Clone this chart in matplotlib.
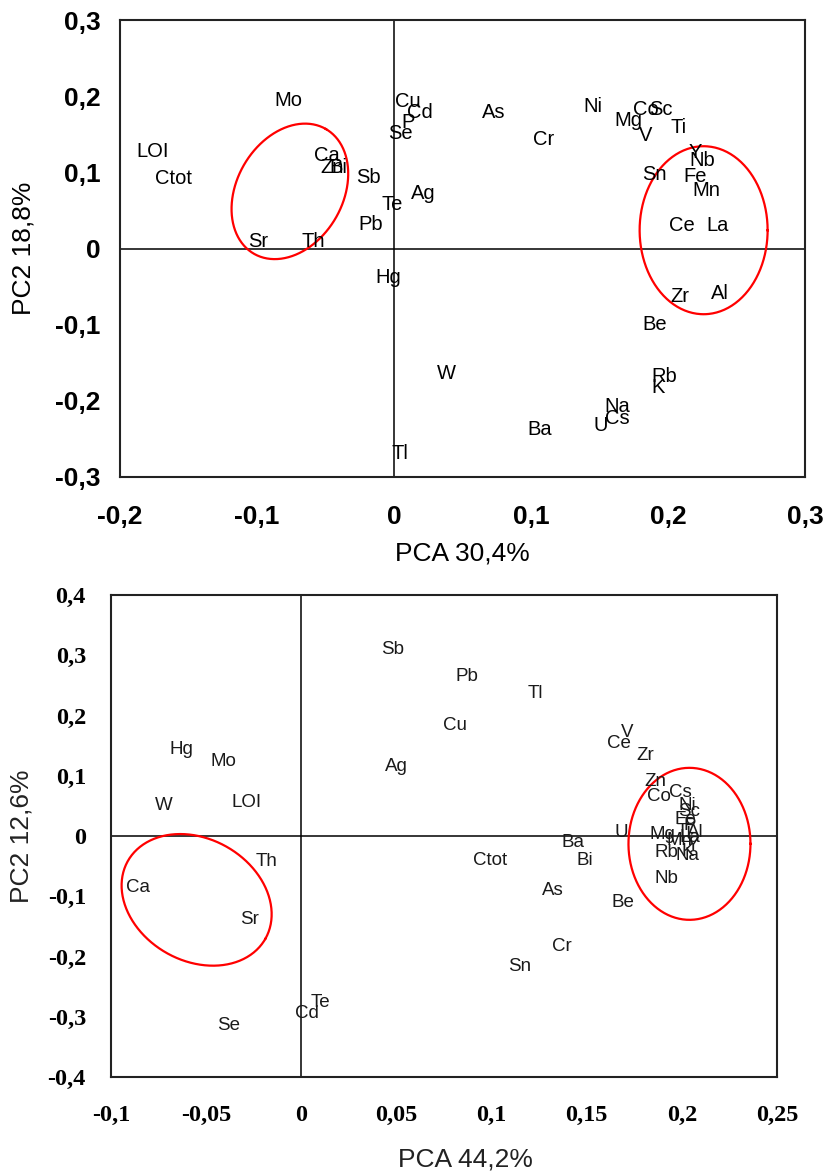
"""PCA loading plots (two panels) with element labels."""

import numpy as np
import matplotlib
matplotlib.use("Agg")
import matplotlib.pyplot as plt

# ---- top panel: PC1 (30,4%) vs PC2 (18,8%) ----
top_labels = ["LOI", "Ctot", "Mo", "Ca", "Zn", "Bi", "Sb", "Sr", "Th", "Te", "Pb",
              "Ag", "Se", "P", "Cd", "Cu", "As", "Cr", "Ni", "Mg", "Co", "Sc", "V",
              "Ti", "Y", "Nb", "Sn", "Fe", "Mn", "Ce", "La", "Zr", "Al", "Be", "W",
              "Rb", "K", "Na", "Cs", "U", "Ba", "Tl", "Hg"]
top_pc1 = [-0.176, -0.161, -0.077, -0.049, -0.045, -0.041, -0.019, -0.099, -0.059,
           -0.001, -0.017, 0.021, 0.005, 0.010, 0.019, 0.010, 0.073, 0.109, 0.145,
           0.171, 0.184, 0.195, 0.184, 0.208, 0.220, 0.225, 0.190, 0.220, 0.228,
           0.210, 0.236, 0.209, 0.238, 0.190, 0.038, 0.197, 0.193, 0.163, 0.163,
           0.151, 0.106, 0.004, -0.004]
top_pc2 = [0.128, 0.092, 0.194, 0.122, 0.107, 0.107, 0.093, 0.009, 0.009, 0.058,
           0.031, 0.072, 0.151, 0.166, 0.178, 0.193, 0.178, 0.143, 0.186, 0.168,
           0.183, 0.182, 0.149, 0.159, 0.126, 0.115, 0.097, 0.094, 0.076, 0.030,
           0.030, -0.063, -0.059, -0.100, -0.164, -0.168, -0.183, -0.208, -0.223,
           -0.233, -0.237, -0.269, -0.038]
top_xticks = [-0.2, -0.1, 0, 0.1, 0.2, 0.3]
top_xticklabels = ["-0,2", "-0,1", "0", "0,1", "0,2", "0,3"]
top_yticks = [-0.3, -0.2, -0.1, 0, 0.1, 0.2, 0.3]
top_yticklabels = ["-0,3", "-0,2", "-0,1", "0", "0,1", "0,2", "0,3"]

# ---- bottom panel: PC1 (44,2%) vs PC2 (12,6%) ----
bot_labels = ["Sb", "Pb", "Tl", "Cu", "Ag", "Hg", "Mo", "W", "LOI", "Th", "Ca", "Sr",
              "Se", "Cd", "Te", "Ctot", "Ba", "Bi", "As", "Be", "Cr", "Sn", "U", "Ce",
              "V", "Zr", "Zn", "Co", "Cs", "Ni", "Sc", "Fe", "P", "Ti", "Al", "La",
              "Mg", "Mn", "Y", "K", "Rb", "Na", "Nb"]
bot_pc1 = [0.048, 0.087, 0.123, 0.081, 0.050, -0.063, -0.041, -0.072, -0.029, -0.018,
           -0.086, -0.027, -0.038, 0.003, 0.010, 0.099, 0.143, 0.149, 0.132, 0.169,
           0.137, 0.115, 0.168, 0.167, 0.171, 0.181, 0.186, 0.188, 0.199, 0.203,
           0.204, 0.202, 0.204, 0.201, 0.207, 0.204, 0.190, 0.199, 0.206, 0.203,
           0.192, 0.203, 0.192]
bot_pc2 = [0.309, 0.264, 0.236, 0.184, 0.115, 0.144, 0.123, 0.050, 0.055, -0.043,
           -0.085, -0.138, -0.315, -0.295, -0.277, -0.040, -0.010, -0.040, -0.091,
           -0.110, -0.184, -0.217, 0.005, 0.154, 0.171, 0.134, 0.091, 0.065, 0.073,
           0.050, 0.040, 0.028, 0.017, 0.008, 0.005, -0.003, 0.002, -0.007, -0.015,
           -0.025, -0.028, -0.032, -0.071]
bot_xticks = [-0.1, -0.05, 0, 0.05, 0.1, 0.15, 0.2, 0.25]
bot_xticklabels = ["-0,1", "-0,05", "0", "0,05", "0,1", "0,15", "0,2", "0,25"]
bot_yticks = [-0.4, -0.3, -0.2, -0.1, 0, 0.1, 0.2, 0.3, 0.4]
bot_yticklabels = ["-0,4", "-0,3", "-0,2", "-0,1", "0", "0,1", "0,2", "0,3", "0,4"]

# group ellipses: centre (data), semi-axes (px), tilt (deg)
top_groups = [((-0.076, 0.075), 72, 53, 60), ((0.226, 0.024), 64, 84, 0)]
bot_groups = [((-0.055, -0.106), 79, 61, -29.5), ((0.204, -0.013), 61, 76, 0)]

W, H = 825, 1176
fig = plt.figure(figsize=(W / 100, H / 100), dpi=100)


def box(l, t, r, b):
    return [l / W, 1 - b / H, (r - l) / W, (b - t) / H]


def draw_group(ax, center, a, b, angle):
    fig.canvas.draw()
    bb = ax.get_window_extent()
    x0, x1 = ax.get_xlim()
    y0, y1 = ax.get_ylim()
    sx = (x1 - x0) / bb.width
    sy = (y1 - y0) / bb.height
    t = np.linspace(0, 2 * np.pi, 300)
    th = np.radians(angle)
    dx = a * np.cos(t) * np.cos(th) - b * np.sin(t) * np.sin(th)
    dy = a * np.cos(t) * np.sin(th) + b * np.sin(t) * np.cos(th)
    ax.plot(center[0] + dx * sx, center[1] + dy * sy, color="red", lw=1.6, zorder=3)


def style(ax, xlim, ylim, xt, xtl, yt, ytl, tickfont, xpad, ypad):
    ax.set_xlim(*xlim)
    ax.set_ylim(*ylim)
    ax.axhline(0, color="black", lw=1.1, zorder=1)
    ax.axvline(0, color="black", lw=1.1, zorder=1)
    ax.set_xticks(xt)
    ax.set_xticklabels(xtl, **tickfont)
    ax.set_yticks(yt)
    ax.set_yticklabels(ytl, **tickfont)
    ax.tick_params(length=0)
    ax.tick_params(axis="x", pad=xpad)
    ax.tick_params(axis="y", pad=ypad)
    for s in ax.spines.values():
        s.set_linewidth(1.5)
        s.set_color("#222222")


# top panel
ax1 = fig.add_axes(box(120, 20, 805, 477))
style(ax1, (-0.2, 0.3), (-0.3, 0.3), top_xticks, top_xticklabels, top_yticks,
      top_yticklabels, dict(family="Liberation Sans", fontweight="bold", fontsize=19),
      20, 14)
for lab, x, y in zip(top_labels, top_pc1, top_pc2):
    ax1.text(x, y, lab, ha="center", va="center", fontsize=14.5,
             family="Liberation Sans", zorder=4)
ax1.set_xlabel("PCA 30,4%", family="Liberation Sans", fontsize=19, labelpad=9)
ax1.set_ylabel("PC2 18,8%", family="Liberation Sans", fontsize=19, labelpad=14)
for c, a, b, ang in top_groups:
    draw_group(ax1, c, a, b, ang)

# bottom panel
ax2 = fig.add_axes(box(111, 595, 777, 1077))
style(ax2, (-0.1, 0.25), (-0.4, 0.4), bot_xticks, bot_xticklabels, bot_yticks,
      bot_yticklabels, dict(family="Liberation Serif", fontweight="bold", fontsize=17.5),
      20, 18)
for lab, x, y in zip(bot_labels, bot_pc1, bot_pc2):
    ax2.text(x, y, lab, ha="center", va="center", fontsize=13.5,
             family="Liberation Sans", color="#1a1a1a", zorder=4)
ax2.set_xlabel("PCA 44,2%", family="Liberation Sans", fontsize=19, color="#222222")
ax2.xaxis.set_label_coords(0.532, -0.146)
ax2.set_ylabel("PC2 12,6%", family="Liberation Sans", fontsize=19, labelpad=10,
               color="#222222")
for c, a, b, ang in bot_groups:
    draw_group(ax2, c, a, b, ang)

fig.savefig("out.png", dpi=100)
